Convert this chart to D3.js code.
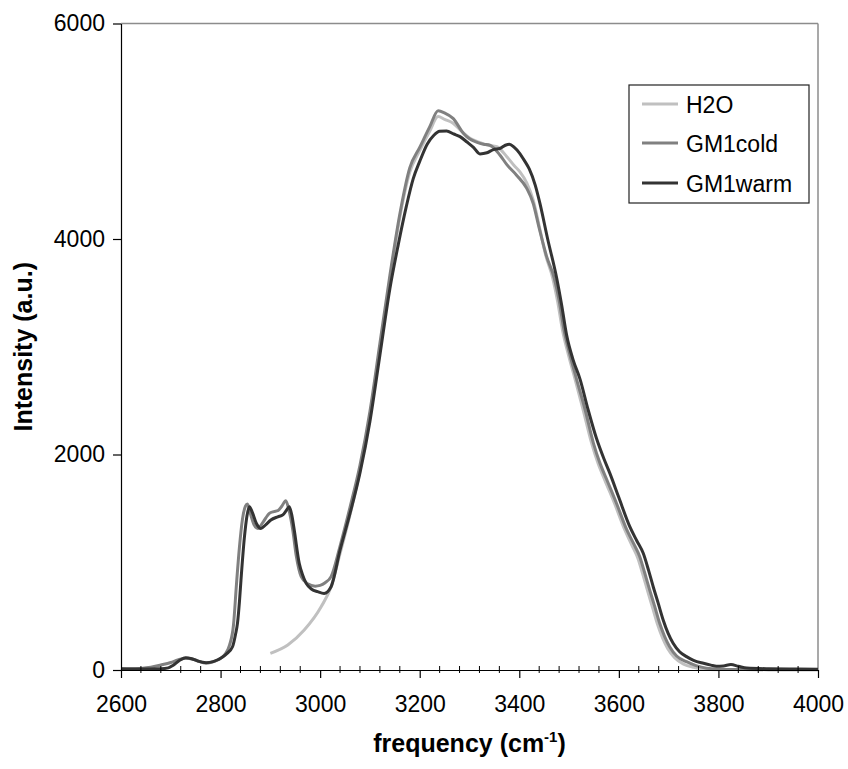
<!DOCTYPE html>
<html>
<head>
<meta charset="utf-8">
<script src="https://cdn.jsdelivr.net/npm/d3@7"></script>
<style>
  html, body { margin: 0; padding: 0; background: #fff; }
  svg { display: block; font-family: "Liberation Sans", Arial, sans-serif; }
</style>
</head>
<body>
<svg id="chart" width="848" height="769"></svg>
<script>
// ---------- data ----------
const seriesNames = ["H2O", "GM1cold", "GM1warm"];

const h2oFreq = [2900, 2935, 2968, 3002, 3022, 3040, 3060, 3080, 3100, 3120, 3140, 3160, 3180, 3200, 3220, 3237, 3250, 3267, 3284, 3301, 3318, 3335, 3355, 3375, 3390, 3401, 3415, 3428, 3440, 3453, 3467, 3477, 3487, 3499, 3512, 3528, 3545, 3558, 3572, 3591, 3612, 3626, 3638, 3648, 3658, 3668, 3678, 3688, 3698, 3712, 3730, 3750, 3770, 3800];
const h2oInt  = [155, 232, 371, 587, 773, 1080, 1440, 1850, 2360, 2980, 3620, 4200, 4620, 4820, 5000, 5136, 5110, 5074, 5000, 4934, 4900, 4872, 4856, 4764, 4680, 4625, 4520, 4360, 4120, 3850, 3640, 3420, 3150, 2920, 2700, 2420, 2110, 1920, 1760, 1550, 1300, 1160, 1040, 890, 730, 575, 420, 295, 200, 115, 55, 25, 10, 3];

const coldFreq = [2600, 2620, 2640, 2660, 2680, 2700, 2714, 2730, 2745, 2758, 2769, 2780, 2795, 2808, 2818, 2826, 2832, 2838, 2844, 2850, 2854, 2860, 2867, 2875, 2885, 2898, 2907, 2915, 2923, 2931, 2937, 2945, 2952, 2962, 2975, 2990, 3000, 3010, 3022, 3040, 3060, 3080, 3100, 3120, 3140, 3160, 3180, 3200, 3220, 3237, 3250, 3267, 3288, 3300, 3314, 3328, 3341, 3361, 3375, 3395, 3415, 3428, 3440, 3455, 3470, 3480, 3490, 3502, 3515, 3532, 3549, 3562, 3576, 3595, 3616, 3630, 3642, 3652, 3662, 3672, 3682, 3692, 3702, 3716, 3736, 3755, 3776, 3800, 3850, 3900, 4000];
const coldInt  = [15, 12, 15, 25, 46, 70, 93, 110, 100, 78, 65, 70, 95, 140, 230, 420, 800, 1144, 1400, 1520, 1540, 1450, 1350, 1314, 1370, 1454, 1470, 1478, 1520, 1571, 1490, 1299, 1060, 866, 800, 778, 785, 810, 866, 1150, 1510, 1900, 2400, 3030, 3660, 4230, 4660, 4850, 5040, 5190, 5170, 5120, 4980, 4930, 4900, 4880, 4870, 4780, 4690, 4590, 4470, 4330, 4100, 3836, 3640, 3430, 3150, 2920, 2700, 2420, 2104, 1920, 1763, 1550, 1300, 1170, 1052, 900, 742, 590, 433, 310, 216, 130, 77, 40, 16, 8, 5, 3, 2];

const warmFreq = [2600, 2640, 2680, 2695, 2705, 2718, 2730, 2742, 2755, 2771, 2785, 2801, 2812, 2824, 2830, 2834, 2838, 2841, 2848, 2853, 2858, 2864, 2872, 2881, 2891, 2901, 2915, 2925, 2932, 2938, 2943, 2948, 2958, 2965, 2972, 2983, 2995, 3008, 3022, 3040, 3060, 3080, 3100, 3120, 3140, 3157, 3173, 3187, 3200, 3215, 3228, 3240, 3254, 3268, 3281, 3295, 3308, 3321, 3335, 3348, 3361, 3372, 3380, 3390, 3400, 3410, 3420, 3432, 3441, 3457, 3475, 3485, 3495, 3508, 3522, 3538, 3555, 3570, 3582, 3600, 3622, 3636, 3649, 3660, 3669, 3679, 3689, 3699, 3709, 3722, 3736, 3750, 3770, 3785, 3796, 3810, 3825, 3840, 3857, 3900, 3950, 4000];
const warmInt  = [10, 10, 12, 20, 45, 90, 114, 105, 82, 68, 78, 111, 150, 216, 330, 435, 640, 835, 1237, 1430, 1515, 1460, 1360, 1314, 1350, 1392, 1422, 1440, 1480, 1515, 1440, 1299, 990, 880, 804, 750, 727, 711, 773, 1112, 1453, 1829, 2307, 2922, 3537, 3950, 4300, 4560, 4720, 4880, 4960, 5000, 5003, 4975, 4950, 4900, 4850, 4790, 4800, 4830, 4840, 4870, 4880, 4850, 4800, 4730, 4650, 4500, 4340, 4000, 3640, 3390, 3110, 2880, 2700, 2420, 2150, 1960, 1825, 1600, 1330, 1200, 1083, 920, 773, 620, 464, 340, 248, 170, 124, 90, 62, 45, 35, 38, 50, 35, 18, 12, 10, 6];

const xTicks = [2600, 2800, 3000, 3200, 3400, 3600, 3800, 4000];
const yTicks = [0, 2000, 4000, 6000];

const seriesColors = ["#c0c0c0", "#808080", "#333333"];

// ---------- layout ----------
const svg = d3.select("#chart");
const L = 121, R = 818, T = 23.5, B = 670;

const x = d3.scaleLinear().domain([2600, 4000]).range([L, R]);
const y = d3.scaleLinear().domain([0, 6000]).range([B, T]);

const series = [
  { name: seriesNames[0], pts: h2oFreq.map((f, i) => [f, h2oInt[i]]), color: seriesColors[0] },
  { name: seriesNames[1], pts: coldFreq.map((f, i) => [f, coldInt[i]]), color: seriesColors[1] },
  { name: seriesNames[2], pts: warmFreq.map((f, i) => [f, warmInt[i]]), color: seriesColors[2] }
];

// frame (top & right in gray)
svg.append("line").attr("x1", L).attr("x2", R).attr("y1", T).attr("y2", T)
  .attr("stroke", "#8c8c8c").attr("stroke-width", 1.5);
svg.append("line").attr("x1", R).attr("x2", R).attr("y1", T).attr("y2", B)
  .attr("stroke", "#8c8c8c").attr("stroke-width", 1.5);

// lines
const line = d3.line().x(d => x(d[0])).y(d => y(d[1])).curve(d3.curveMonotoneX);
const g = svg.append("g");
series.forEach(s => {
  g.append("path").datum(s.pts)
    .attr("d", line)
    .attr("fill", "none")
    .attr("stroke", s.color)
    .attr("stroke-width", 3)
    .attr("stroke-linejoin", "round");
});

// x axis
const xAxis = d3.axisBottom(x).tickValues(xTicks).tickSize(8).tickSizeOuter(0)
  .tickFormat(d3.format("d"));
const xg = svg.append("g").attr("transform", `translate(0,${B})`).call(xAxis);
xg.select(".domain").attr("stroke", "#000").attr("stroke-width", 1.2);
xg.selectAll(".tick line").attr("stroke", "#000").attr("stroke-width", 1.2);
xg.selectAll(".tick text").attr("font-size", 23).attr("fill", "#000")
  .attr("font-family", "Liberation Sans, Arial, sans-serif").attr("dy", null).attr("y", 42);

// minor ticks on x axis (every 40)
const minor = d3.range(2640, 4000, 40).filter(v => (v - 2600) % 200 !== 0);
svg.append("g").selectAll("line").data(minor).join("line")
  .attr("x1", d => x(d)).attr("x2", d => x(d))
  .attr("y1", B - 4).attr("y2", B + 3)
  .attr("stroke", "#000").attr("stroke-width", 1);

// y axis
const yAxis = d3.axisLeft(y).tickValues(yTicks).tickSize(8).tickSizeOuter(0)
  .tickFormat(d3.format("d"));
const yg = svg.append("g").attr("transform", `translate(${L},0)`).call(yAxis);
yg.select(".domain").attr("stroke", "#000").attr("stroke-width", 1.2);
yg.selectAll(".tick line").attr("stroke", "#000").attr("stroke-width", 1.2);
yg.selectAll(".tick text").attr("font-size", 23).attr("fill", "#000")
  .attr("font-family", "Liberation Sans, Arial, sans-serif").attr("x", -16);

// axis titles
const xt = svg.append("text").attr("x", (L + R) / 2).attr("y", 752)
  .attr("text-anchor", "middle").attr("font-size", 25).attr("font-weight", "bold");
xt.append("tspan").text("frequency (cm");
xt.append("tspan").text("-1").attr("font-size", 15).attr("dy", -10);
xt.append("tspan").text(")").attr("dy", 10);

svg.append("text")
  .attr("transform", `translate(32,${(T + B) / 2}) rotate(-90)`)
  .attr("text-anchor", "middle").attr("font-size", 25).attr("font-weight", "bold")
  .text("Intensity (a.u.)");

// legend
const lg = svg.append("g");
lg.append("rect").attr("x", 629).attr("y", 85).attr("width", 180).attr("height", 118)
  .attr("fill", "#fff").attr("stroke", "#222").attr("stroke-width", 1.2);
const ly = [104, 143, 183];
series.forEach((s, i) => {
  lg.append("line").attr("x1", 642).attr("x2", 678).attr("y1", ly[i]).attr("y2", ly[i])
    .attr("stroke", s.color).attr("stroke-width", 3);
  lg.append("text").attr("x", 686).attr("y", ly[i] + 8.5)
    .attr("font-size", 23).attr("fill", "#000").text(s.name);
});
</script>
</body>
</html>
